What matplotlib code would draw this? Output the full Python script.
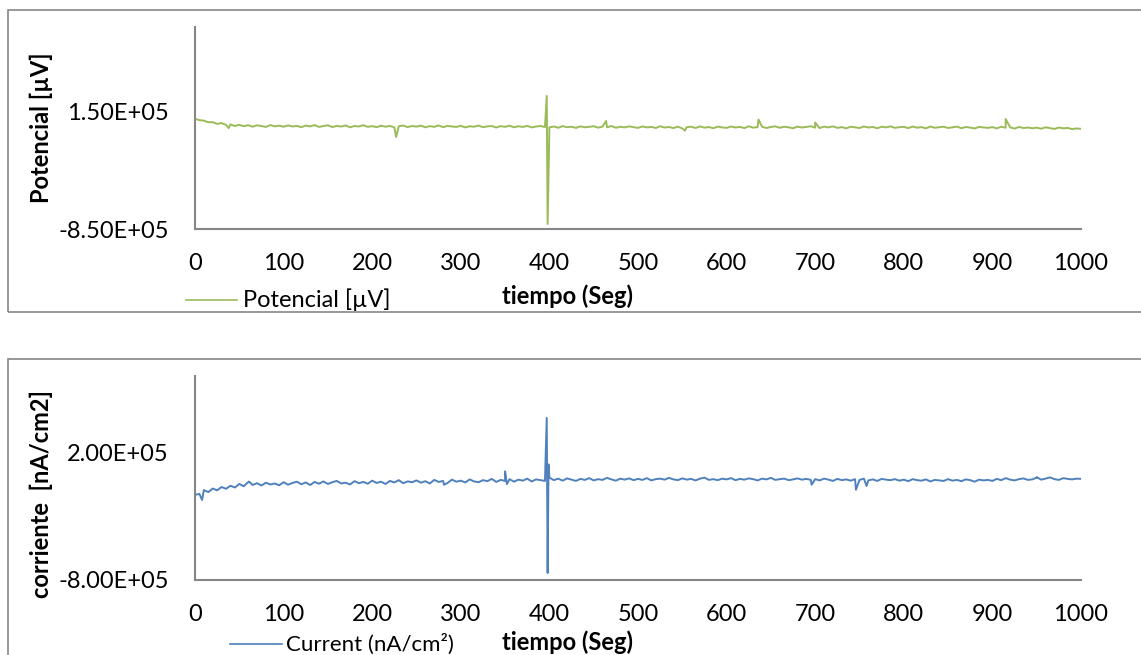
import numpy as np
import matplotlib
matplotlib.use("Agg")
import matplotlib.pyplot as plt
from matplotlib.lines import Line2D
from matplotlib.patches import Rectangle

plt.rcParams["font.family"] = ["Lato", "DejaVu Sans"]

# sampled every 5 s, values in units of 1e3
tiempo = np.arange(0, 1001, 5)

potencial_k = [
    92, 80, 76, 62, 63, 48, 55, 40, 44, 30,
    40, 28, 37, 24, 36, 30, 22, 38, 27, 33,
    24, 35, 26, 31, 20, 34, 27, 38, 22, 30,
    36, 21, 31, 25, 35, 19, 30, 26, 37, 23,
    29, 20, 33, 24, 31, 18, 28, 34, 21, 30,
    25, 33, 19, 29, 23, 35, 20, 31, 26, 22,
    32, 18, 28, 24, 34, 20, 27, 30, 17, 29,
    23, 33, 19, 28, 22, 31, 18, 26, 30, 21,
    18, 26, 15, 29, 20, 24, 14, 27, 19, 23,
    28, 16, 25, 19, 30, 15, 24, 18, 27, 20,
    14, 26, 18, 23, 13, 28, 17, 22, 12, 25,
    9, 20, 24, 13, 27, 16, 21, 11, 25, 18,
    14, 26, 17, 23, 12, 28, 16, 21, 24, 13,
    22, 27, 15, 24, 19, 11, 25, 17, 22, 28,
    16, 12, 25, 18, 27, 14, 21, 10, 24, 19,
    13, 26, 17, 22, 11, 24, 18, 27, 14, 20,
    23, 12, 25, 16, 21, 10, 26, 15, 20, 24,
    13, 19, 25, 11, 22, 16, 9, 23, 18, 14,
    21, 10, 24, 15, 19, 8, 22, 13, 17, 11,
    16, 7, 19, 12, 5, 17, 10, 14, 3, 9,
    6,
]
pot_spike_t = [38, 227, 397, 398, 464, 553, 636, 700, 915]
pot_spike_k = [12, -64, 287, -807, 73, -10, 85, 60, 90]

corriente_k = [
    -130, -122, -92, -108, -80, -94, -68, -82, -58, -72,
    -44, -62, -30, -52, -38, -56, -34, -48, -40, -54,
    -30, -50, -36, -26, -46, -32, -52, -28, -42, -24,
    -44, -30, -20, -40, -34, -48, -22, -38, -28, -42,
    -18, -36, -26, -44, -20, -32, -14, -38, -24, -30,
    -16, -34, -22, -40, -12, -28, -20, -36, -10, -26,
    -18, -32, -8, -24, -30, -14, -22, -4, -28, -12,
    -20, -6, -26, -10, -18, -2, -24, -8, -14, -20,
    6, -14, -2, -18, 0, -10, -20, -4, -12, 2,
    -16, -6, -12, 4, -8, -18, -2, -10, 0, -14,
    -4, -12, 2, -16, -6, -2, -10, 4, -8, -14,
    0, -10, -4, -16, -2, 6, -12, -6, -14, -2,
    -8, 2, -14, -4, -10, 0, -6, -16, -2, -8,
    4, -12, -6, -2, -14, -8, 0, -10, -4, -12,
    -6, -16, -2, -10, -20, -4, -14, -8, -18, -6,
    -12, -2, -16, -8, -20, -4, -10, -14, -6, -18,
    -10, -22, -6, -14, -18, -8, -24, -12, -16, -20,
    -6, -18, -12, -22, -8, -14, -26, -10, -16, -12,
    -20, -4, -14, 2, -10, -16, -6, 0, -12, -8,
    6, -10, -2, 8, -6, -12, 2, -4, -8, -2,
    -4,
]
cor_spike_t = [8, 61, 281, 350, 352, 397, 398, 399, 696, 746, 758, 950]
cor_spike_k = [-170, -25, -50, 55, -45, 476, -745, 110, -50, -90, -60, 10]


def merge(t, v, st, sv):
    tt = np.concatenate([t, st])
    vv = np.concatenate([np.array(v, float), np.array(sv, float)]) * 1e3
    order = np.argsort(tt, kind="stable")
    return tt[order], vv[order]


W, H = 1141, 655
fig = plt.figure(figsize=(W / 100, H / 100), dpi=100)

grey = "#868686"
green = "#9BBB59"
blue = "#4F81BD"
fs = 17

# outer chart borders
fig.patches.append(Rectangle((8 / W, 1 - 312 / H), 1140 / W, 302 / H,
                             transform=fig.transFigure, fill=False,
                             edgecolor=grey, lw=1.2))
fig.patches.append(Rectangle((8 / W, -0.01), 1140 / W, 1 - 359 / H + 0.01,
                             transform=fig.transFigure, fill=False,
                             edgecolor=grey, lw=1.2))


def setup(ax, ylim, yticks, ylabels):
    ax.set_xlim(0, 1000)
    ax.set_ylim(*ylim)
    ax.set_xticks(range(0, 1001, 100))
    ax.set_yticks(yticks)
    ax.set_yticklabels(ylabels)
    for s in ["top", "right"]:
        ax.spines[s].set_visible(False)
    for s in ["left", "bottom"]:
        ax.spines[s].set_color(grey)
        ax.spines[s].set_linewidth(1.5)
    ax.tick_params(axis="x", length=0, pad=17, labelsize=fs)
    ax.tick_params(axis="y", length=0, pad=19, labelsize=fs)


ax1 = fig.add_axes([195 / W, 1 - 229 / H, 886 / W, 202 / H])
t1, v1 = merge(tiempo, potencial_k, pot_spike_t, pot_spike_k)
ax1.plot(t1, v1, color=green, lw=1.4)
setup(ax1, (-8.5e5, 8.76e5), [-8.5e5, 1.5e5], ["-8.50E+05", "1.50E+05"])

ax2 = fig.add_axes([195 / W, 1 - 580 / H, 886 / W, 204 / H])
t2, v2 = merge(tiempo, corriente_k, cor_spike_t, cor_spike_k)
ax2.plot(t2, v2, color=blue, lw=1.4)
setup(ax2, (-8e5, 8.06e5), [-8e5, 2e5], ["-8.00E+05", "2.00E+05"])

# axis titles
fig.text(41 / W, 1 - 128 / H, "Potencial [µV]", rotation=90, fontsize=fs,
         fontweight="bold", ha="center", va="center")
fig.text(41 / W, 1 - 494 / H, "corriente  [nA/cm2]", rotation=90, fontsize=fs,
         fontweight="bold", ha="center", va="center")
fig.text(567 / W, 1 - 296 / H, "tiempo (Seg)", fontsize=fs,
         fontweight="bold", ha="center", va="center")
fig.text(567 / W, 1 - 642 / H, "tiempo (Seg)", fontsize=fs,
         fontweight="bold", ha="center", va="center")

# legends
fig.add_artist(Line2D([186 / W, 237 / W], [1 - 300 / H, 1 - 300 / H],
                      color=green, lw=1.2, transform=fig.transFigure))
fig.text(243 / W, 1 - 300 / H, "Potencial [µV]", fontsize=fs,
         ha="left", va="center")
fig.add_artist(Line2D([230 / W, 282 / W], [1 - 644 / H, 1 - 644 / H],
                      color=blue, lw=1.2, transform=fig.transFigure))
fig.text(286 / W, 1 - 644 / H, "Current (nA/cm²)", fontsize=16,
         ha="left", va="center")

fig.savefig("out.png", dpi=100)
